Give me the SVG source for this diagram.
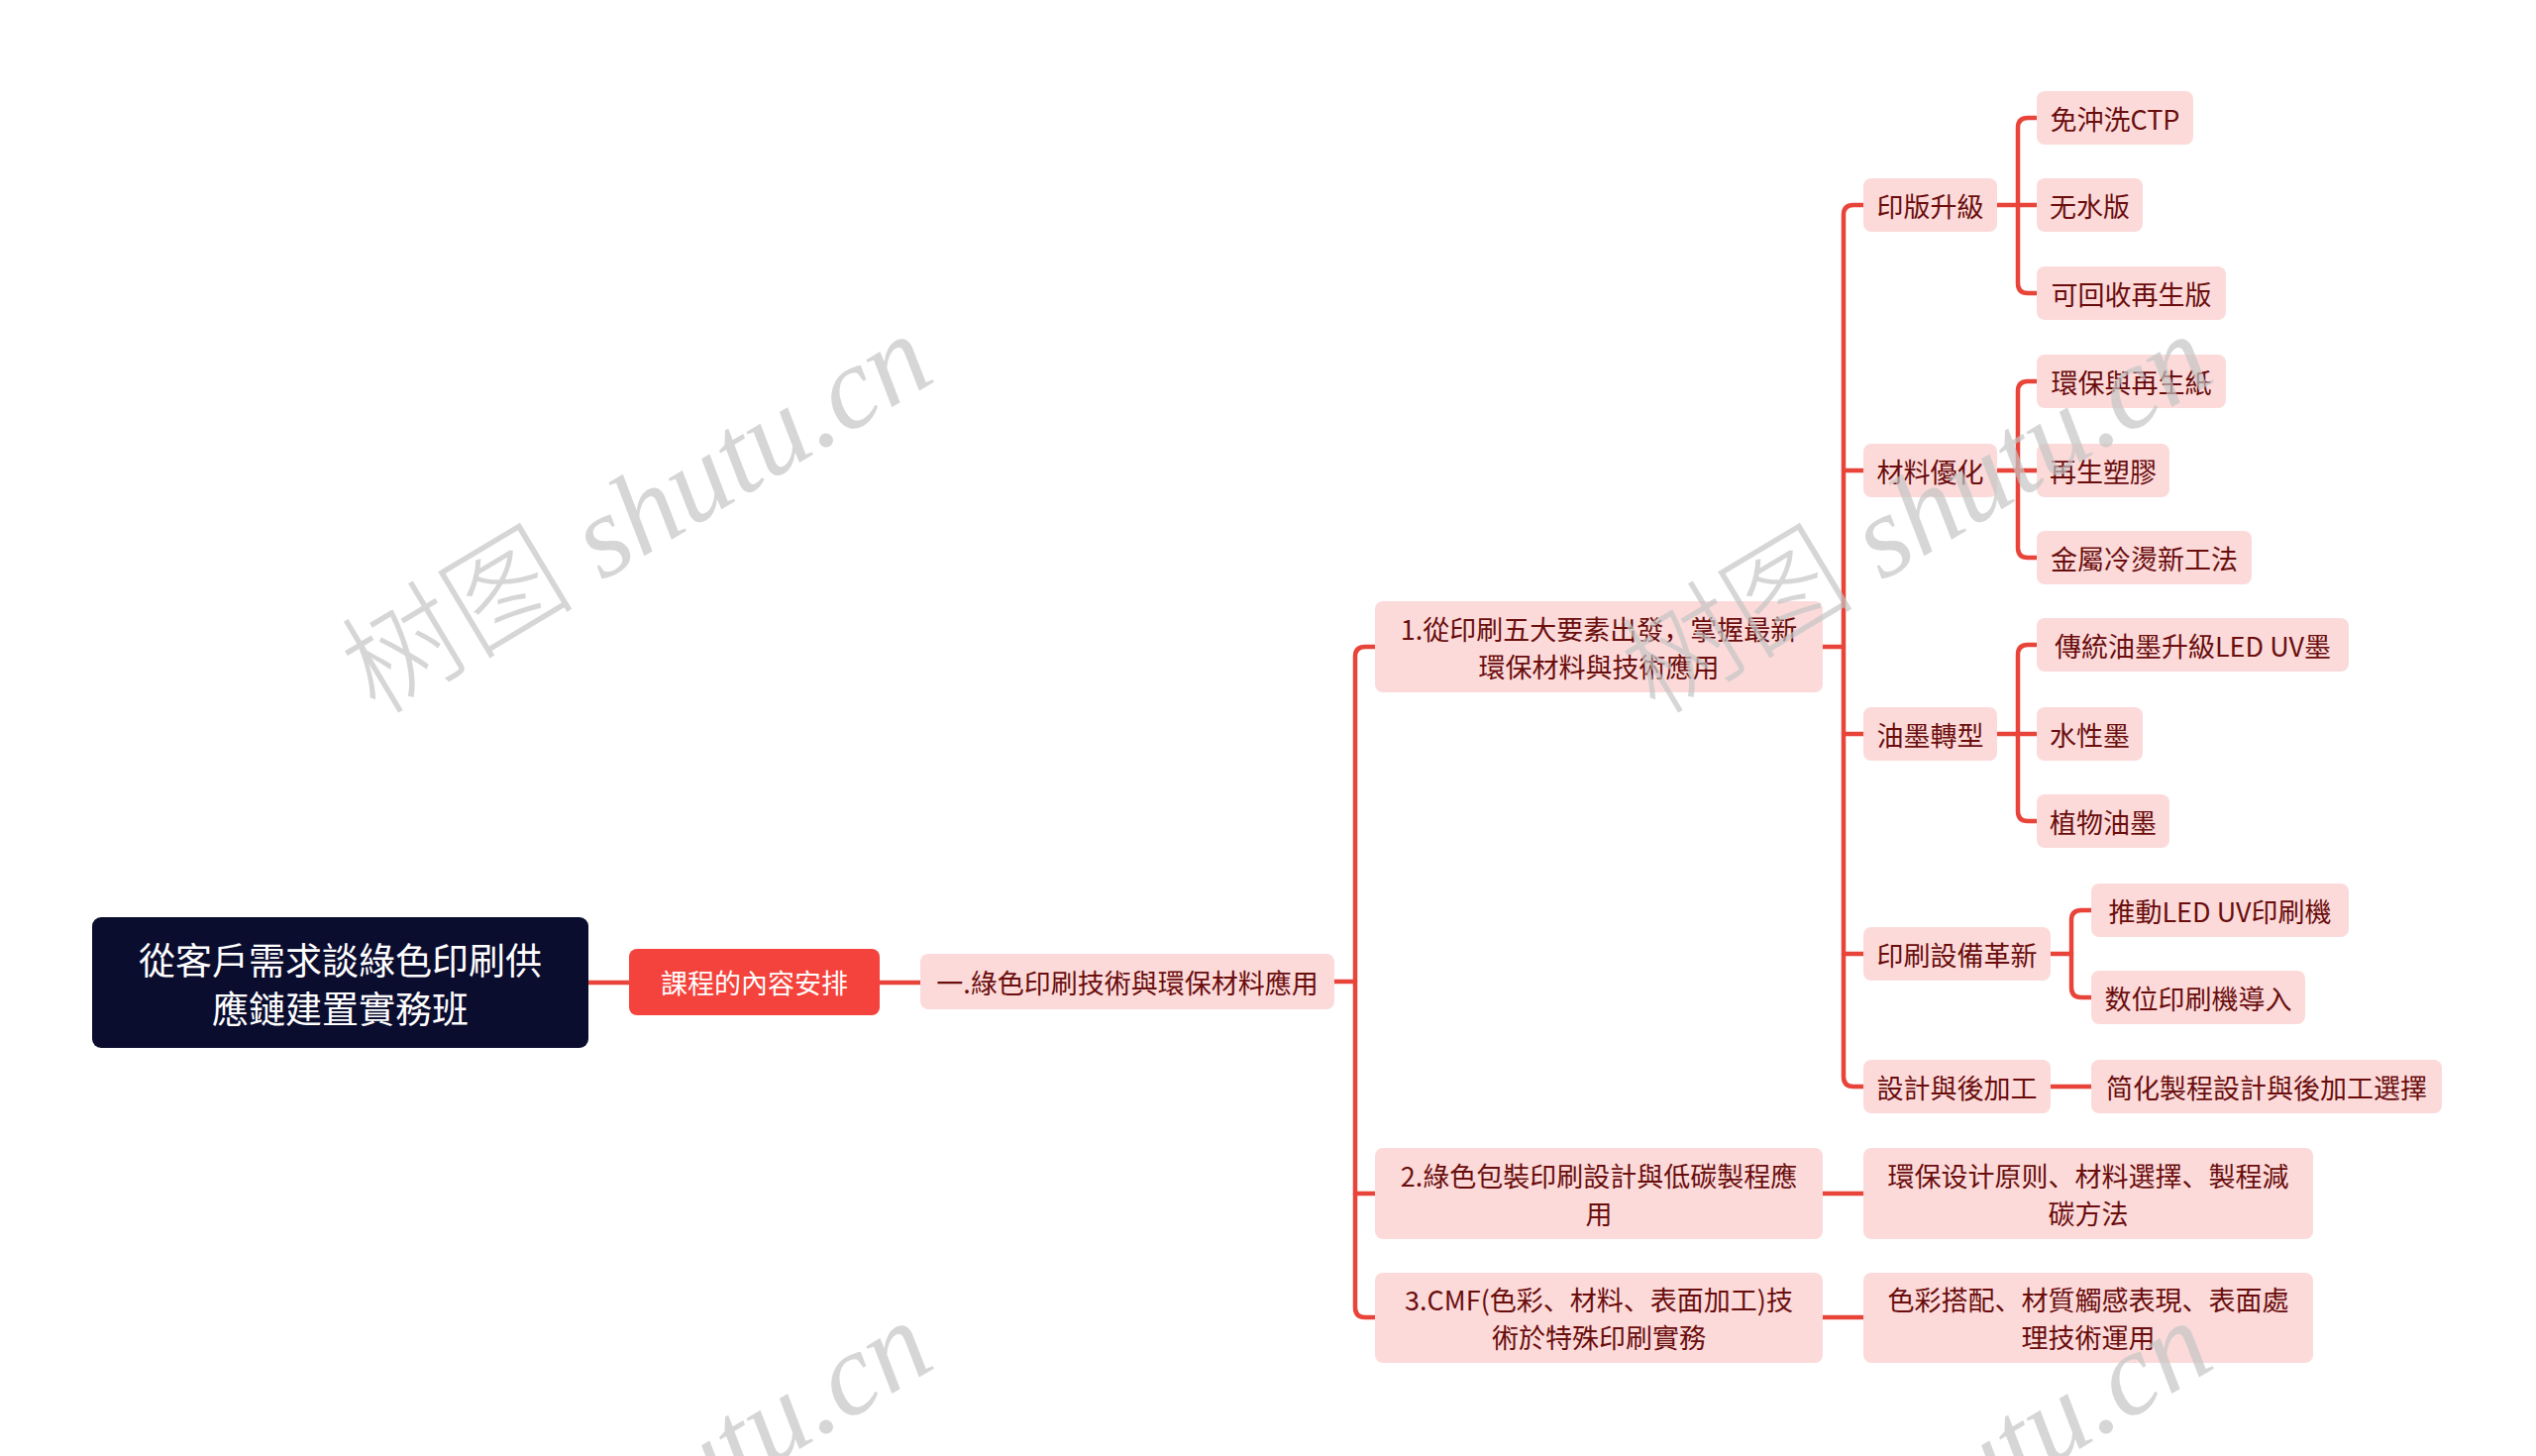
<svg xmlns="http://www.w3.org/2000/svg" width="2560" height="1470" viewBox="0 0 2560 1470">
<style>
text{font-family:"Noto Sans CJK SC","Noto Sans CJK TC",sans-serif;}
.pink rect{fill:#fcdada;}
.pink text{fill:#6a0d0d;font-size:27px;text-anchor:middle;dominant-baseline:central;}
.conn path{fill:none;stroke:#e8443a;stroke-width:4.5;stroke-linecap:round;}
.wm{font-family:"Liberation Serif","Noto Sans CJK SC",serif;font-size:118px;fill:#c4c4c4;fill-opacity:0.7;font-weight:300;}
</style>
<rect width="2560" height="1470" fill="#ffffff"/>
<g id="connectors" class="conn">
<path d="M594 992H635"/>
<path d="M888 992H929"/>
<path d="M1347 991H1368"/>
<path d="M1388 653H1378Q1368 653 1368 663V1320Q1368 1330 1378 1330H1388"/>
<path d="M1368 1205H1388"/>
<path d="M1840 653H1861"/>
<path d="M1881 207H1871Q1861 207 1861 217V1087Q1861 1097 1871 1097H1881"/>
<path d="M1861 475H1881"/>
<path d="M1861 741H1881"/>
<path d="M1861 963H1881"/>
<path d="M2016 207H2056"/>
<path d="M2056 119H2047Q2037 119 2037 129V286Q2037 296 2047 296H2056"/>
<path d="M2016 475H2056"/>
<path d="M2056 385H2047Q2037 385 2037 395V553Q2037 563 2047 563H2056"/>
<path d="M2016 741H2056"/>
<path d="M2056 651H2047Q2037 651 2037 661V819Q2037 829 2047 829H2056"/>
<path d="M2070 963H2091"/>
<path d="M2111 919H2101Q2091 919 2091 929V997Q2091 1007 2101 1007H2111"/>
<path d="M2070 1097H2111"/>
<path d="M1840 1205H1881"/>
<path d="M1840 1330H1881"/>
</g>
<g id="root">
<rect x="93" y="926" width="501" height="132" rx="9" fill="#0b0d2f"/>
<text x="343.5" y="968" font-size="37" fill="#ffffff" text-anchor="middle" dominant-baseline="central">從客戶需求談綠色印刷供</text>
<text x="343.5" y="1017" font-size="37" fill="#ffffff" text-anchor="middle" dominant-baseline="central">應鏈建置實務班</text>
</g>
<g id="n-course">
<rect x="635" y="958" width="253" height="67" rx="8" fill="#f4433c"/>
<text x="761.5" y="991.5" font-size="27" fill="#ffffff" text-anchor="middle" dominant-baseline="central">課程的內容安排</text>
</g>
<g id="n-part1" class="pink">
<rect x="929" y="963" width="418" height="56" rx="8"/>
<text x="1138" y="991">一.綠色印刷技術與環保材料應用</text>
</g>
<g id="n-1" class="pink">
<rect x="1388" y="607" width="452" height="92" rx="8"/>
<text x="1614" y="634">1.從印刷五大要素出發，掌握最新</text>
<text x="1614" y="672">環保材料與技術應用</text>
</g>
<g id="n-2" class="pink">
<rect x="1388" y="1159" width="452" height="92" rx="8"/>
<text x="1614" y="1186">2.綠色包裝印刷設計與低碳製程應</text>
<text x="1614" y="1224">用</text>
</g>
<g id="n-3" class="pink">
<rect x="1388" y="1285" width="452" height="91" rx="8"/>
<text x="1614" y="1311">3.CMF(色彩、材料、表面加工)技</text>
<text x="1614" y="1349">術於特殊印刷實務</text>
</g>
<g id="n-2a" class="pink">
<rect x="1881" y="1159" width="454" height="92" rx="8"/>
<text x="2108" y="1186">環保设计原则、材料選擇、製程減</text>
<text x="2108" y="1224">碳方法</text>
</g>
<g id="n-3a" class="pink">
<rect x="1881" y="1285" width="454" height="91" rx="8"/>
<text x="2108" y="1311">色彩搭配、材質觸感表現、表面處</text>
<text x="2108" y="1349">理技術運用</text>
</g>
<g id="n-plate" class="pink">
<rect x="1881" y="180" width="135" height="54" rx="8"/>
<text x="1948.5" y="207">印版升級</text>
</g>
<g id="n-material" class="pink">
<rect x="1881" y="448" width="135" height="54" rx="8"/>
<text x="1948.5" y="475">材料優化</text>
</g>
<g id="n-ink" class="pink">
<rect x="1881" y="714" width="135" height="54" rx="8"/>
<text x="1948.5" y="741">油墨轉型</text>
</g>
<g id="n-equip" class="pink">
<rect x="1881" y="936" width="189" height="54" rx="8"/>
<text x="1975.5" y="963">印刷設備革新</text>
</g>
<g id="n-design" class="pink">
<rect x="1881" y="1070" width="189" height="54" rx="8"/>
<text x="1975.5" y="1097">設計與後加工</text>
</g>
<g id="n-ctp" class="pink">
<rect x="2056" y="92" width="158" height="54" rx="8"/>
<text x="2135" y="119">免沖洗CTP</text>
</g>
<g id="n-waterless" class="pink">
<rect x="2056" y="180" width="107" height="54" rx="8"/>
<text x="2109.5" y="207">无水版</text>
</g>
<g id="n-recycle" class="pink">
<rect x="2056" y="269" width="191" height="54" rx="8"/>
<text x="2151.5" y="296">可回收再生版</text>
</g>
<g id="n-paper" class="pink">
<rect x="2056" y="358" width="191" height="54" rx="8"/>
<text x="2151.5" y="385">環保與再生紙</text>
</g>
<g id="n-plastic" class="pink">
<rect x="2056" y="448" width="134" height="54" rx="8"/>
<text x="2123" y="475">再生塑膠</text>
</g>
<g id="n-foil" class="pink">
<rect x="2056" y="536" width="217" height="54" rx="8"/>
<text x="2164.5" y="563">金屬冷燙新工法</text>
</g>
<g id="n-leduv" class="pink">
<rect x="2056" y="624" width="315" height="54" rx="8"/>
<text x="2213.5" y="651">傳統油墨升級LED UV墨</text>
</g>
<g id="n-water" class="pink">
<rect x="2056" y="714" width="107" height="54" rx="8"/>
<text x="2109.5" y="741">水性墨</text>
</g>
<g id="n-veg" class="pink">
<rect x="2056" y="802" width="134" height="54" rx="8"/>
<text x="2123" y="829">植物油墨</text>
</g>
<g id="n-press" class="pink">
<rect x="2111" y="892" width="260" height="54" rx="8"/>
<text x="2241" y="919">推動LED UV印刷機</text>
</g>
<g id="n-digital" class="pink">
<rect x="2111" y="980" width="216" height="54" rx="8"/>
<text x="2219" y="1007">数位印刷機導入</text>
</g>
<g id="n-simplify" class="pink">
<rect x="2111" y="1070" width="354" height="54" rx="8"/>
<text x="2288" y="1097">简化製程設計與後加工選擇</text>
</g>
<g id="watermarks">
<text class="wm" transform="translate(643 519) rotate(-31)" text-anchor="middle" dominant-baseline="central">树图 <tspan font-style="italic">shutu.cn</tspan></text>
<text class="wm" transform="translate(1935 519) rotate(-31)" text-anchor="middle" dominant-baseline="central">树图 <tspan font-style="italic">shutu.cn</tspan></text>
<text class="wm" transform="translate(643 1515) rotate(-31)" text-anchor="middle" dominant-baseline="central">树图 <tspan font-style="italic">shutu.cn</tspan></text>
<text class="wm" transform="translate(1935 1515) rotate(-31)" text-anchor="middle" dominant-baseline="central">树图 <tspan font-style="italic">shutu.cn</tspan></text>
</g>
</svg>
